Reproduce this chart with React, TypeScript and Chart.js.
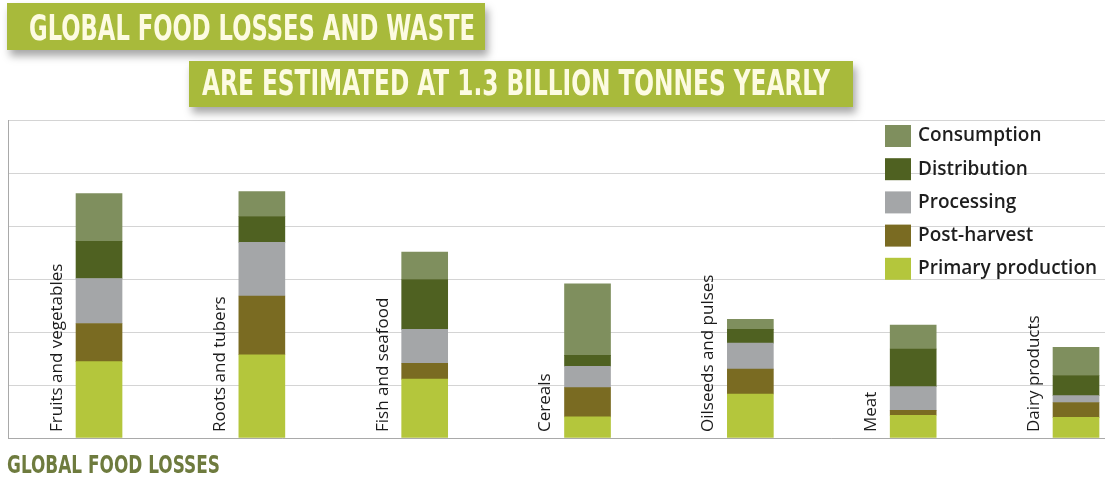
import React, { useEffect, useLayoutEffect, useRef } from 'react';
import { Chart, registerables } from 'chart.js';

Chart.register(...registerables);

// ---------- data ----------
const categories = [
  'Fruits and vegetables',
  'Roots and tubers',
  'Fish and seafood',
  'Cereals',
  'Oilseeds and pulses',
  'Meat',
  'Dairy products',
];
const primaryProduction = [14.4, 15.7, 11.1, 4.0, 8.3, 4.3, 3.9];
const postHarvest = [7.2, 11.1, 3.0, 5.5, 4.7, 0.9, 2.8];
const processing = [8.5, 10.1, 6.4, 4.0, 4.9, 4.5, 1.3];
const distribution = [7.0, 4.9, 9.4, 2.1, 2.6, 7.1, 3.8];
const consumption = [9.0, 4.7, 5.2, 13.5, 1.9, 4.5, 5.3];
const seriesNames = ['Primary production', 'Post-harvest', 'Processing', 'Distribution', 'Consumption'];
const seriesValues = [primaryProduction, postHarvest, processing, distribution, consumption];
const seriesColors = ['#b4c63c', '#7a6b22', '#a4a6a8', '#4f6121', '#7f8f5e'];
const yTicks = [0, 10, 20, 30, 40, 50, 60];

const titleLine1 = 'GLOBAL FOOD LOSSES AND WASTE';
const titleLine2 = 'ARE ESTIMATED AT 1.3 BILLION TONNES YEARLY';
const footerText = 'GLOBAL FOOD LOSSES';

const TITLE_FONT = '"Liberation Sans Narrow", "DejaVu Sans Condensed", "Liberation Sans", Arial, sans-serif';
const LABEL_FONT = '"Open Sans", "Liberation Sans", sans-serif';

type FitProps = {
  text: string;
  left: number;
  top: number;
  width: number;
  fontSize: number;
  color: string;
};

function FitText({ text, left, top, width, fontSize, color }: FitProps) {
  const ref = useRef<HTMLSpanElement>(null);
  useLayoutEffect(() => {
    const el = ref.current;
    if (!el) return;
    el.style.transform = 'none';
    const w = el.getBoundingClientRect().width;
    if (w > 0) el.style.transform = `scaleX(${width / w})`;
  }, [text, width, fontSize]);
  return (
    <span
      ref={ref}
      style={{
        position: 'absolute',
        left,
        top,
        fontFamily: TITLE_FONT,
        fontWeight: 700,
        fontSize,
        lineHeight: 1,
        color,
        whiteSpace: 'nowrap',
        transformOrigin: 'left top',
      }}
    >
      {text}
    </span>
  );
}

const categoryLabelPlugin = {
  id: 'categoryLabels',
  afterDatasetsDraw(chart: any) {
    const { ctx, scales } = chart;
    const xs = scales.x;
    const ys = scales.y;
    ctx.save();
    ctx.fillStyle = '#1b1b1b';
    ctx.font = `17px ${LABEL_FONT}`;
    ctx.textAlign = 'left';
    ctx.textBaseline = 'middle';
    categories.forEach((label, i) => {
      const x = xs.getPixelForValue(i) - 42;
      const y = ys.getPixelForValue(0) - 6;
      ctx.save();
      ctx.translate(x, y);
      ctx.rotate(-Math.PI / 2);
      ctx.fillText(label, 0, 0);
      ctx.restore();
    });
    ctx.restore();
  },
};

const legendPlugin = {
  id: 'customLegend',
  afterDraw(chart: any) {
    const { ctx, chartArea } = chart;
    const items = chart.data.datasets.slice().reverse();
    const boxX = 885;
    const top0 = chartArea.top + 5;
    ctx.save();
    ctx.font = `600 19px ${LABEL_FONT}`;
    ctx.textAlign = 'left';
    ctx.textBaseline = 'middle';
    items.forEach((ds: any, k: number) => {
      const y = top0 + k * 33.2;
      ctx.fillStyle = ds.backgroundColor;
      ctx.fillRect(boxX, y, 26, 22);
      ctx.fillStyle = '#1e1e1e';
      ctx.fillText(ds.label, boxX + 33, y + 11);
    });
    ctx.restore();
  },
};

export default function App() {
  const canvasRef = useRef<HTMLCanvasElement>(null);

  useEffect(() => {
    const canvas = canvasRef.current;
    if (!canvas) return;
    const chart = new Chart(canvas, {
      type: 'bar',
      data: {
        datasets: seriesNames.map((name, s) => ({
          label: name,
          data: categories.map((_, i) => ({ x: i, y: seriesValues[s][i] })),
          backgroundColor: seriesColors[s],
          borderWidth: 0,
        })),
      },
      options: {
        animation: false,
        responsive: false,
        maintainAspectRatio: false,
        layout: { padding: { left: 8, top: 120, right: 0, bottom: 43 } },
        datasets: { bar: { barThickness: 46 } },
        scales: {
          x: {
            type: 'linear',
            stacked: true,
            offset: false,
            min: -0.559,
            max: 6.178,
            grid: { display: false, drawTicks: false, offset: false },
            ticks: { display: false },
            border: { display: true, color: '#a9a9a9', width: 1 },
          },
          y: {
            stacked: true,
            min: yTicks[0],
            max: yTicks[yTicks.length - 1],
            afterBuildTicks: (scale: any) => {
              scale.ticks = yTicks.map((v) => ({ value: v }));
            },
            grid: { color: '#d4d4d4', drawTicks: false, lineWidth: 1 },
            ticks: { display: false },
            border: { display: true, color: '#a9a9a9', width: 1 },
          },
        },
        plugins: {
          legend: { display: false },
          tooltip: { enabled: false },
        },
      } as any,
      plugins: [categoryLabelPlugin, legendPlugin],
    });
    return () => chart.destroy();
  }, []);

  return (
    <div style={{ position: 'absolute', left: 0, top: 0, width: 1105, height: 481, overflow: 'hidden', background: '#ffffff' }}>
      <canvas ref={canvasRef} width={1105} height={481} style={{ position: 'absolute', left: 0, top: 0, width: 1105, height: 481 }} />
      <div
        style={{
          position: 'absolute',
          left: 7,
          top: 3,
          width: 478,
          height: 47,
          background: '#a8ba3b',
          boxShadow: '3px 6px 8px rgba(0,0,0,0.35)',
        }}
      />
      <FitText text={titleLine1} left={29} top={10.5} width={446} fontSize={35} color="#fdfbe2" />
      <div
        style={{
          position: 'absolute',
          left: 189,
          top: 61,
          width: 664,
          height: 46,
          background: '#a8ba3b',
          boxShadow: '3px 6px 8px rgba(0,0,0,0.35)',
        }}
      />
      <FitText text={titleLine2} left={202} top={65.5} width={628} fontSize={35} color="#fdfbe2" />
      <FitText text={footerText} left={7} top={451.7} width={213} fontSize={25} color="#6e7b3e" />
    </div>
  );
}
